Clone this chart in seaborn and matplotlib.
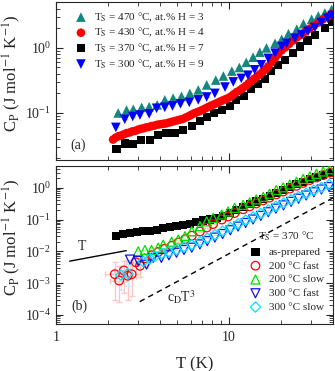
import numpy as np
import matplotlib
matplotlib.use('Agg')
import matplotlib.pyplot as plt
import matplotlib.ticker as mticker
import seaborn as sns

# estilo
sns.set_style('ticks')
plt.rcParams['font.family'] = ['Liberation Serif', 'DejaVu Serif']
plt.rcParams['mathtext.fontset'] = 'stix'

# ---------------- dados painel (a) ----------------
teal_T = [2.29, 2.56, 2.80, 3.13, 3.46, 3.85, 4.26, 4.76, 5.32, 5.95, 6.65, 7.44, 8.4, 9.3,
          10.4, 11.5, 12.6, 13.8, 15.1, 16.5, 18.5, 20.2, 22.1, 24.7, 27.0, 30.1, 32.9, 35.9, 39.3]
teal_Cp = [0.100, 0.111, 0.114, 0.122, 0.125, 0.133, 0.159, 0.169, 0.180, 0.200, 0.226, 0.27, 0.32, 0.37,
           0.44, 0.50, 0.60, 0.72, 0.86, 1.00, 1.18, 1.36, 1.65, 1.94, 2.35, 2.76, 3.10, 3.45, 3.90]

red_T = [2.14, 2.22, 2.30, 2.38, 2.47, 2.56, 2.66, 2.76, 2.86, 2.97, 3.08, 3.20, 3.32, 3.45,
         3.58, 3.72, 3.86, 4.01, 4.16, 4.32, 4.49, 4.66, 4.84, 5.03, 5.22, 5.42, 5.63, 5.85,
         6.07, 6.31, 6.55, 6.80, 7.06, 7.34, 7.62, 7.91, 8.22, 8.53, 8.86, 9.21, 9.56, 9.93,
         10.3, 10.7, 11.1, 11.6, 12.0, 12.5, 13.0, 13.5, 14.0, 14.5, 15.1, 15.7, 16.3, 16.9,
         17.6, 18.5, 19.3, 20.2, 21.2, 22.3, 23.5, 24.8, 26.2, 27.7, 29.3, 31.0, 32.9, 35.0,
         37.3, 39.5]
red_Cp = [0.039, 0.042, 0.044, 0.045, 0.047, 0.049, 0.050, 0.052, 0.053, 0.055, 0.057, 0.058, 0.060, 0.061,
          0.063, 0.064, 0.066, 0.067, 0.068, 0.069, 0.071, 0.073, 0.075, 0.077, 0.079, 0.081, 0.085, 0.089,
          0.094, 0.099, 0.103, 0.107, 0.112, 0.118, 0.124, 0.130, 0.136, 0.142, 0.149, 0.156, 0.163, 0.170,
          0.180, 0.195, 0.21, 0.225, 0.24, 0.26, 0.285, 0.31, 0.335, 0.36, 0.39, 0.43, 0.47, 0.52,
          0.60, 0.70, 0.80, 0.92, 1.02, 1.15, 1.30, 1.45, 1.60, 1.78, 1.98, 2.20, 2.45, 2.75,
          3.05, 3.35]

black_T = [2.24, 2.50, 2.80, 3.12, 3.50, 3.90, 4.36, 4.87, 5.45, 6.1, 6.8, 7.5, 8.2, 9.1, 10.1,
           11.0, 12.2, 13.4, 14.7, 16.1, 17.6, 19.2, 21.0, 23.5, 25.7, 28.5, 31.4, 35.9, 39.3]
black_Cp = [0.0276, 0.034, 0.033, 0.039, 0.038, 0.046, 0.049, 0.050, 0.055, 0.063, 0.076, 0.088, 0.099, 0.111, 0.130,
            0.159, 0.185, 0.23, 0.28, 0.33, 0.44, 0.54, 0.65, 0.83, 1.05, 1.30, 1.58, 2.00, 2.50]

blue_T = [2.22, 2.50, 2.78, 3.06, 3.46, 3.82, 4.26, 4.72, 5.25, 5.9, 6.65, 7.44, 8.3, 9.5, 10.6,
          11.8, 12.9, 14.1, 15.4, 16.9, 18.5, 20.2, 21.6, 24.1, 26.4, 28.7, 31.4, 34.3, 37.3, 39.5]
blue_Cp = [0.060, 0.080, 0.088, 0.093, 0.097, 0.118, 0.122, 0.128, 0.138, 0.145, 0.159, 0.176, 0.200, 0.25, 0.30,
           0.34, 0.38, 0.46, 0.55, 0.69, 0.83, 1.05, 1.18, 1.41, 1.60, 1.80, 2.05, 2.45, 2.85, 3.15]

# ---------------- dados painel (b) ----------------
prep_T = [2.22, 2.45, 2.68, 2.93, 3.2, 3.49, 3.82, 4.17, 4.56, 4.98, 5.45, 5.95, 6.5, 7.1, 7.77, 8.5,
          9.3, 10.1, 11.0, 12.1, 13.2, 14.4, 15.8, 17.2, 18.8, 20.6, 22.5, 24.6, 26.9, 29.4, 32.1, 35.1, 38.4]
prep_Cp = [0.0297, 0.035, 0.038, 0.041, 0.045, 0.043, 0.048, 0.055, 0.057, 0.062, 0.069, 0.073, 0.085, 0.093, 0.100, 0.113,
           0.128, 0.16, 0.20, 0.25, 0.31, 0.37, 0.45, 0.55, 0.68, 0.85, 1.05, 1.30, 1.55, 1.85, 2.2, 2.6, 3.0]

f200_T = [2.19, 2.32, 2.47, 2.60, 2.74, 2.90, 3.06, 3.27, 3.57, 3.9, 4.26, 4.67, 5.1, 5.58, 6.1, 6.8,
          7.44, 8.1, 9.1, 9.9, 10.8, 12.1, 13.2, 14.4, 15.8, 17.2, 18.8, 20.6, 22.5, 24.6, 26.9, 29.4,
          32.1, 35.1, 38.4]
f200_Cp = [0.0019, 0.0012, 0.0025, 0.0017, 0.0019, 0.0045, 0.0035, 0.006, 0.0075, 0.0095, 0.012, 0.015, 0.019, 0.024, 0.031, 0.042,
           0.056, 0.072, 0.10, 0.125, 0.16, 0.21, 0.26, 0.32, 0.40, 0.49, 0.62, 0.76, 0.94, 1.15, 1.42, 1.75,
           2.1, 2.5, 3.0]
# barras de erro dos primeiros pontos (limites inferior / superior)
f200_lo = [0.0003, 0.00025, 0.0005, 0.0003, 0.0004, 0.002, 0.0015]
f200_hi = [0.0045, 0.0035, 0.005, 0.004, 0.0045, 0.007, 0.006]

s200_T = [2.99, 3.27, 3.57, 3.9, 4.17, 4.67, 5.1, 5.58, 6.1, 6.8, 7.44, 8.1, 9.1, 9.9, 10.8, 12.1,
          13.2, 14.4, 15.8, 17.2, 18.8, 20.6, 22.5, 24.6, 26.9, 29.4, 32.1, 35.1, 38.4]
s200_Cp = [0.010, 0.011, 0.011, 0.013, 0.0163, 0.020, 0.0235, 0.030, 0.043, 0.062, 0.088, 0.113, 0.144, 0.18, 0.234, 0.29,
           0.35, 0.43, 0.52, 0.65, 0.85, 1.03, 1.27, 1.55, 1.90, 2.30, 2.75, 3.25, 3.80]

f300_T = [2.68, 2.99, 3.34, 3.65, 4.07, 4.5, 4.98, 5.5, 6.1, 6.8, 7.5, 8.3, 9.2, 10.2, 11.3, 12.5,
          13.8, 15.3, 16.9, 18.7, 20.7, 22.9, 25.3, 28.0, 31.0, 34.3, 38.0]
f300_Cp = [0.0055, 0.005, 0.0038, 0.0062, 0.0062, 0.0075, 0.009, 0.011, 0.013, 0.0165, 0.021, 0.027, 0.035, 0.046, 0.060, 0.078,
           0.10, 0.13, 0.17, 0.22, 0.28, 0.36, 0.45, 0.57, 0.72, 0.88, 1.05]

s300_T = [2.37, 2.60, 3.2, 3.5, 3.73, 4.1, 4.5, 4.98, 5.5, 6.1, 6.8, 7.5, 8.3, 9.2, 10.2, 11.3, 12.5,
          13.8, 15.3, 16.9, 18.7, 20.7, 22.9, 25.3, 28.0, 31.0, 34.3, 38.0]
s300_Cp = [0.0018, 0.0020, 0.0048, 0.0058, 0.0069, 0.0085, 0.0095, 0.011, 0.0135, 0.016, 0.020, 0.026, 0.033, 0.043, 0.056, 0.073, 0.095,
           0.12, 0.155, 0.20, 0.26, 0.33, 0.42, 0.53, 0.67, 0.84, 1.02, 1.25]
s300_lo = [0.0006, 0.0008]
s300_hi = [0.0035, 0.004]

# linhas guia
lineT_x = [1.2, 2.55]
lineT_y = [0.0049, 0.0105]
lineD_x = [3.05, 40.0]
lineD_y = [0.00026, 0.48]

# ---------------- figura ----------------
fig = plt.figure(figsize=(3.35, 3.71), dpi=100)
ax1 = fig.add_axes([0.167, 0.569, 0.827, 0.426])
ax2 = fig.add_axes([0.167, 0.127, 0.827, 0.426])

for ax in (ax1, ax2):
    ax.set_xscale('log')
    ax.set_yscale('log')


def ghost(ax, T, Cp, col, frac=0.04):
    T = np.asarray(T)
    ax.errorbar(T, Cp, xerr=T * frac, fmt='none', ecolor=col, elinewidth=1.0, zorder=1)


# painel (a)
ghost(ax1, teal_T, teal_Cp, '#d5d5d5')
ghost(ax1, black_T, black_Cp, '#d5d5d5')
ghost(ax1, blue_T, blue_Cp, '#d5d5d5')
sns.scatterplot(x=teal_T, y=teal_Cp, ax=ax1, marker='^', s=48, color='#14877f',
                edgecolor='none', label=r'T$_\mathrm{S}$ = 470 °C, at.% H = 3', zorder=3)
sns.scatterplot(x=black_T, y=black_Cp, ax=ax1, marker='s', s=34, color='black',
                edgecolor='none', label=r'T$_\mathrm{S}$ = 370 °C, at.% H = 7', zorder=3)
sns.scatterplot(x=red_T, y=red_Cp, ax=ax1, marker='o', s=38, color='#ff0000',
                edgecolor='none', label=r'T$_\mathrm{S}$ = 430 °C, at.% H = 4', zorder=4)
sns.scatterplot(x=blue_T, y=blue_Cp, ax=ax1, marker='v', s=48, color='#0000ff',
                edgecolor='none', label=r'T$_\mathrm{S}$ = 300 °C, at.% H = 9', zorder=5)

handles, labels = ax1.get_legend_handles_labels()
order = [0, 2, 1, 3]
ax1.legend([handles[i] for i in order], [labels[i] for i in order], loc='upper left',
           bbox_to_anchor=(0.03, 1.01), frameon=False, fontsize=8, handletextpad=0.6,
           labelspacing=0.2, handlelength=1.2)

# painel (b)
ghost(ax2, prep_T, prep_Cp, '#d5d5d5')
ghost(ax2, f200_T, f200_Cp, '#ffc4c4')
ghost(ax2, s200_T, s200_Cp, '#c4f5c4')
ghost(ax2, f300_T, f300_Cp, '#c8c8ff')
ghost(ax2, s300_T, s300_Cp, '#c4efff')

n = len(f200_lo)
yl = np.array(f200_Cp[:n]) - np.array(f200_lo)
yh = np.array(f200_hi) - np.array(f200_Cp[:n])
ax2.errorbar(f200_T[:n], f200_Cp[:n], yerr=[yl, yh], xerr=np.array(f200_T[:n]) * 0.12,
             fmt='none', ecolor='#ffc4c4', elinewidth=0.9, capsize=2.5, zorder=1)
n = len(s300_lo)
yl = np.array(s300_Cp[:n]) - np.array(s300_lo)
yh = np.array(s300_hi) - np.array(s300_Cp[:n])
ax2.errorbar(s300_T[:n], s300_Cp[:n], yerr=[yl, yh], fmt='none', ecolor='#c4e8ff',
             elinewidth=0.9, capsize=2.5, zorder=1)

sns.scatterplot(x=prep_T, y=prep_Cp, ax=ax2, marker='s', s=34, color='black',
                edgecolor='none', label='as-prepared', zorder=3)
sns.scatterplot(x=f200_T, y=f200_Cp, ax=ax2, marker='o', s=38, facecolors='none',
                edgecolor='#ff0000', linewidth=0.9, label='200 °C fast', zorder=4)
sns.scatterplot(x=s200_T, y=s200_Cp, ax=ax2, marker='^', s=42, facecolors='none',
                edgecolor='#00e000', linewidth=0.9, label='200 °C slow', zorder=4)
sns.scatterplot(x=f300_T, y=f300_Cp, ax=ax2, marker='v', s=42, facecolors='none',
                edgecolor='#1010ee', linewidth=0.9, label='300 °C fast', zorder=4)
sns.scatterplot(x=s300_T, y=s300_Cp, ax=ax2, marker='D', s=28, facecolors='none',
                edgecolor='#00e5ff', linewidth=0.9, label='300 °C slow', zorder=4)

sns.lineplot(x=lineT_x, y=lineT_y, ax=ax2, color='black', linewidth=1.0)
sns.lineplot(x=lineD_x, y=lineD_y, ax=ax2, color='black', linewidth=1.0, linestyle=(0, (4, 3)))

ax2.text(1.42, 0.0143, 'T', fontsize=10, ha='center', va='center')
ax2.text(5.35, 0.00035, r'c$_\mathrm{D}$T$^3$', fontsize=10, ha='center', va='center')

ax2.legend(loc='upper left', bbox_to_anchor=(0.66, 0.66), frameon=False, fontsize=8,
           title=r'T$_\mathrm{S}$ = 370 °C', title_fontsize=8, handletextpad=0.6,
           labelspacing=0.36, handlelength=1.2)

# eixos
ax1.set_xlim(1, 40)
ax2.set_xlim(1, 40)
ax1.set_ylim(0.019, 5.1)
ax2.set_ylim(5.2e-5, 4.9)

for ax in (ax1, ax2):
    ax.tick_params(which='both', direction='in', top=True, right=True, labelsize=10)
    ax.tick_params(which='major', length=5, width=0.8)
    ax.tick_params(which='minor', length=2.8, width=0.6)
    ax.tick_params(axis='x', which='major', pad=5)
    ax.yaxis.set_major_locator(mticker.LogLocator(base=10, numticks=10))
    ax.yaxis.set_minor_locator(mticker.LogLocator(base=10, subs=np.arange(2, 10), numticks=20))
    ax.yaxis.set_minor_formatter(mticker.NullFormatter())
    ax.xaxis.set_minor_formatter(mticker.NullFormatter())
    ax.set_ylabel(r'C$_\mathrm{P}$ (J mol$^{-1}$ K$^{-1}$)', fontsize=12)
    ax.yaxis.set_label_coords(-0.118, 0.55)

ax1.xaxis.set_major_formatter(mticker.NullFormatter())
ax2.xaxis.set_major_formatter(mticker.FuncFormatter(lambda v, _: f'{v:g}'))
ax1.set_xlabel('')
ax2.set_xlabel('T (K)', fontsize=12, labelpad=9)

ax1.text(0.081, 0.095, '(a)', transform=ax1.transAxes, fontsize=10, ha='center', va='center')
ax2.text(0.083, 0.114, '(b)', transform=ax2.transAxes, fontsize=10, ha='center', va='center')

fig.savefig('out.png', dpi=100)
